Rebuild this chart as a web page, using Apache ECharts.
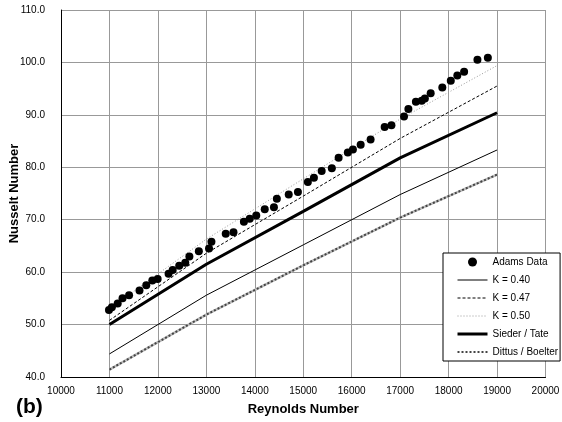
<!DOCTYPE html>
<html>
<head>
<meta charset="utf-8">
<script src="https://cdn.jsdelivr.net/npm/echarts@6/dist/echarts.min.js"></script>
<style>html,body{margin:0;padding:0;background:#fff}#c{width:562px;height:422px}</style>
</head>
<body>
<div id="c"></div>
<script>
const adamsRe = [10990,11050,11170,11270,11405,11620,11760,11885,11995,12220,12305,12440,12565,12650,12845,13055,13105,13400,13560,13775,13895,14030,14205,14395,14455,14700,14890,15095,15220,15380,15590,15730,15920,16025,16185,16390,16680,16820,17080,17170,17325,17445,17510,17630,17870,18045,18180,18320,18595,18810];
const adamsNu = [52.8,53.3,54.0,55.0,55.6,56.5,57.5,58.4,58.7,59.7,60.4,61.2,61.8,63.0,64.0,64.5,65.8,67.3,67.6,69.6,70.2,70.8,72.0,72.4,74.0,74.8,75.3,77.2,78.0,79.3,79.8,81.8,82.8,83.4,84.3,85.3,87.7,88.0,89.7,91.1,92.5,92.7,93.1,94.1,95.2,96.5,97.5,98.2,100.5,100.9];
const lineRe = [11000,13000,15000,17000,19000];
const k040 = [44.4,55.6,65.2,74.8,83.3];
const k047 = [50.8,63.6,74.5,85.5,95.5];
const k050 = [53.0,66.3,77.8,89.2,99.4];
const sieder = [50.0,61.5,71.6,81.8,90.4];
const dittus = [41.4,51.9,61.3,70.4,78.6];
const xTicks = {min:10000,max:20000,step:1000};
const yTicks = {min:40,max:110,step:10};

const pair = (xs, ys) => xs.map((x,i)=>[x, ys[i]]);
const FONT = "'Liberation Sans', Arial, sans-serif";
const hideSym = {opacity:0};
const chart = echarts.init(document.getElementById('c'), null, {renderer:'canvas'});
chart.setOption({
  animation:false,
  backgroundColor:'#fff',
  title:{text:'(b)', left:11, top:392, textStyle:{fontFamily:FONT, fontSize:21, fontWeight:'bold', color:'#000'}},
  grid:{left:61, right:16.5, top:10, bottom:45, containLabel:false, outerBoundsMode:'none'},
  xAxis:{type:'value', min:xTicks.min, max:xTicks.max, interval:xTicks.step,
    name:'Reynolds Number', nameLocation:'middle', nameGap:26, nameMoveOverlap:false,
    nameTextStyle:{fontFamily:FONT, fontSize:13, fontWeight:'bold', color:'#000'},
    axisLine:{show:true, onZero:false, lineStyle:{color:'#000', width:1}},
    axisTick:{show:false},
    axisLabel:{fontFamily:FONT, fontSize:10, color:'#000', margin:9, formatter:v=>String(v)},
    splitLine:{show:true, lineStyle:{color:'#999', width:1}}},
  yAxis:{type:'value', min:yTicks.min, max:yTicks.max, interval:yTicks.step,
    name:'Nusselt Number', nameLocation:'middle', nameGap:40, nameMoveOverlap:false,
    nameTextStyle:{fontFamily:FONT, fontSize:13, fontWeight:'bold', color:'#000'},
    axisLine:{show:true, onZero:false, lineStyle:{color:'#000', width:1}},
    axisTick:{show:false},
    axisLabel:{fontFamily:FONT, fontSize:10, color:'#000', margin:16, formatter:v=>v.toFixed(1)},
    splitLine:{show:true, lineStyle:{color:'#999', width:1}}},
  legend:{orient:'vertical', left:443, top:253, itemWidth:30, itemHeight:9, itemGap:6,
    padding:[3,2,3,13], borderColor:'#000', borderWidth:1, backgroundColor:'#fff',
    textStyle:{fontFamily:FONT, fontSize:10, lineHeight:12, color:'#000'},
    data:[
      {name:'Adams Data'},
      {name:'K = 0.40', itemStyle:hideSym, lineStyle:{width:1}},
      {name:'K = 0.47', itemStyle:hideSym, lineStyle:{width:1}},
      {name:'K = 0.50', itemStyle:hideSym, lineStyle:{width:1}},
      {name:'Sieder / Tate', itemStyle:hideSym, lineStyle:{width:3}},
      {name:'Dittus / Boelter', itemStyle:hideSym, lineStyle:{width:2}}
    ]},
  series:[
    {name:'_db', type:'line', data:pair(lineRe,dittus), symbol:'none', lineStyle:{color:'#bbb', width:2.5}, z:2},
    {name:'Dittus / Boelter', type:'line', data:pair(lineRe,dittus), symbol:'none', lineStyle:{color:'#444', width:2, type:[2,2]}, itemStyle:{color:'#444'}, z:3},
    {name:'K = 0.40', type:'line', data:pair(lineRe,k040), symbol:'none', lineStyle:{color:'#000', width:1}, itemStyle:{color:'#000'}, z:3},
    {name:'K = 0.47', type:'line', data:pair(lineRe,k047), symbol:'none', lineStyle:{color:'#000', width:1, type:[3,2]}, itemStyle:{color:'#000'}, z:3},
    {name:'K = 0.50', type:'line', data:pair(lineRe,k050), symbol:'none', lineStyle:{color:'#999', width:1, type:[1,2]}, itemStyle:{color:'#999'}, z:3},
    {name:'Sieder / Tate', type:'line', data:pair(lineRe,sieder), symbol:'none', lineStyle:{color:'#000', width:3}, itemStyle:{color:'#000'}, z:3},
    {name:'Adams Data', type:'scatter', data:pair(adamsRe,adamsNu), symbol:'circle', symbolSize:8, itemStyle:{color:'#000', opacity:1}, z:5}
  ]
});
</script>
</body>
</html>
